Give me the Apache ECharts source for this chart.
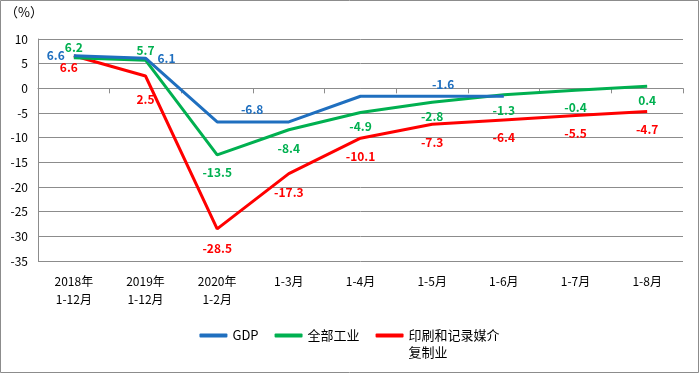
<!DOCTYPE html>
<html><head><meta charset="utf-8">
<script src="https://cdn.jsdelivr.net/npm/echarts@6/dist/echarts.min.js"></script>
<style>html,body{margin:0;padding:0;background:#fff}#c{width:699px;height:373px}</style>
</head><body><div id="c"></div>
<script>
const categories = ['2018年\n1-12月','2019年\n1-12月','2020年\n1-2月','1-3月','1-4月','1-5月','1-6月','1-7月','1-8月'];
const gdp = [6.6, 6.1, -6.8, -6.8, -1.6, -1.6, -1.6, null, null];
const industry = [6.2, 5.7, -13.5, -8.4, -4.9, -2.8, -1.3, -0.4, 0.4];
const printing = [6.6, 2.5, -28.5, -17.3, -10.1, -7.3, -6.4, -5.5, -4.7];
const yTicks = {min: -35, max: 10, interval: 5};
const names = ['GDP', '全部工业', '印刷和记录媒介复制业'];

const FONT = 'Noto Sans CJK SC';
const lbl = (color) => ({show: true, color: color, fontFamily: FONT, fontSize: 12, fontWeight: 'bold'});

// label placement per point (style only)
const gdpLabels = [
  {position: 'left', distance: 9},
  {position: 'right', distance: 12},
  {position: 'top', offset: [35, 0], distance: 6},
  null,
  null,
  {position: 'top', offset: [11, 0], distance: 6},
  null, null, null
];
const indDist = [4, 4, 12, 13, 8, 8, 10, 11, 8];
const prnDist = [6, 17, 14, 13, 12, 12, 12, 12, 12];
const gdpData = gdp.map((v, i) => gdpLabels[i] ? {value: v, label: Object.assign(lbl('#1F6FBF'), gdpLabels[i])} : {value: v, label: {show: false}});
const indData = industry.map((v, i) => ({value: v, label: Object.assign(lbl('#00B050'), {position: i < 2 ? 'top' : 'bottom', distance: indDist[i]})}));
const prnData = printing.map((v, i) => ({value: v, label: Object.assign(lbl('#FF0000'), {position: 'bottom', distance: prnDist[i]}, i === 0 ? {offset: [-5, 0]} : {})}));

const chart = echarts.init(document.getElementById('c'));
const lineSeries = (name, data, color, z) => ({
  name: name, type: 'line', data: data, symbol: 'circle', symbolSize: 0, showSymbol: true,
  lineStyle: {color: color, width: 3}, itemStyle: {color: color}, z: z
});
chart.setOption({
  animation: false,
  backgroundColor: '#fff',
  grid: {left: 38, right: 16, top: 39, bottom: 112, containLabel: false},
  graphic: [
    {type: 'rect', shape: {x: 0.5, y: 0.5, width: 698, height: 372}, style: {fill: 'none', stroke: '#8c8c8c', lineWidth: 1}, silent: true},
    {type: 'text', left: 5, top: 6, style: {text: '（%）', fontFamily: FONT, fontSize: 13, fill: '#000'}}
  ],
  legend: {
    bottom: 7, left: 'center', itemWidth: 28, itemHeight: 4, icon: 'roundRect', itemGap: 16,
    textStyle: {fontFamily: FONT, fontSize: 13, color: '#000', lineHeight: 17},
    data: [
      {name: names[0]},
      {name: names[1]},
      {name: names[2]}
    ],
    formatter: (n) => n === names[2] ? '\n印刷和记录媒介\n复制业' : n
  },
  xAxis: [
    {type: 'category', data: categories, boundaryGap: true, position: 'bottom',
     axisLine: {show: false, onZero: false}, axisTick: {show: false},
     axisLabel: {fontFamily: FONT, fontSize: 12, color: '#000', margin: 11, lineHeight: 18, interval: 0}},
    {type: 'category', data: categories, boundaryGap: true, position: 'bottom',
     axisLine: {show: true, onZero: true, lineStyle: {color: '#8c8c8c', width: 1}},
     axisTick: {show: true, length: 5, lineStyle: {color: '#8c8c8c'}, interval: 0},
     axisLabel: {show: false}}
  ],
  yAxis: {
    type: 'value', min: yTicks.min, max: yTicks.max, interval: yTicks.interval,
    axisLine: {show: true, lineStyle: {color: '#8c8c8c'}},
    axisTick: {show: false},
    axisLabel: {fontFamily: FONT, fontSize: 12, color: '#000', margin: 10},
    splitLine: {lineStyle: {color: '#8c8c8c', width: 1}}
  },
  series: [
    lineSeries(names[0], gdpData, '#1F6FBF', 4),
    lineSeries(names[1], indData, '#00B050', 3),
    lineSeries(names[2], prnData, '#FF0000', 2)
  ]
});
</script></body></html>
